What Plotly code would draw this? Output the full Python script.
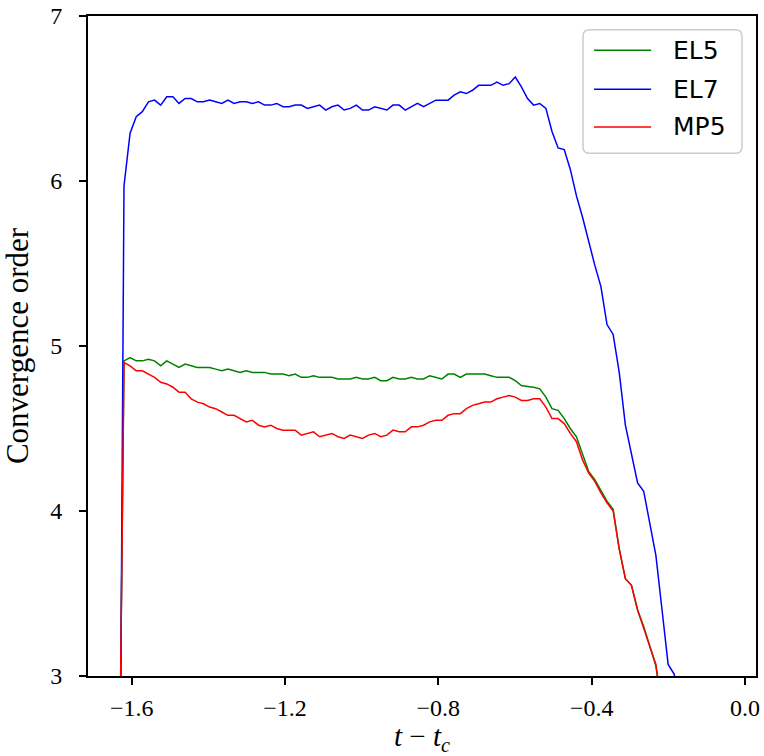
import plotly.graph_objects as go

# time relative to collapse, t - t_c
t_rel = [-1.6361, -1.6201, -1.6042, -1.5882, -1.5723, -1.5563, -1.5404, -1.5244, -1.5085, -1.4925,
         -1.4766, -1.4606, -1.4447, -1.4287, -1.4128, -1.3968, -1.3809, -1.3649, -1.3490, -1.3330,
         -1.3171, -1.3011, -1.2852, -1.2692, -1.2533, -1.2373, -1.2214, -1.2054, -1.1895, -1.1735,
         -1.1576, -1.1416, -1.1257, -1.1097, -1.0938, -1.0778, -1.0618, -1.0459, -1.0299, -1.0140,
         -0.9980, -0.9821, -0.9661, -0.9502, -0.9342, -0.9183, -0.9023, -0.8864, -0.8704, -0.8545,
         -0.8385, -0.8226, -0.8066, -0.7907, -0.7747, -0.7588, -0.7428, -0.7269, -0.7109, -0.6950,
         -0.6790, -0.6631, -0.6471, -0.6312, -0.6152, -0.5993, -0.5833, -0.5673, -0.5514, -0.5354,
         -0.5195, -0.5035, -0.4876, -0.4716, -0.4557, -0.4397, -0.4238, -0.4078, -0.3919, -0.3759,
         -0.3600, -0.3440, -0.3281, -0.3121, -0.2962, -0.2802, -0.2643, -0.2483, -0.2324, -0.2164,
         -0.2005, -0.1845, -0.1686]

el5 = [1.40, 4.91, 4.93, 4.91, 4.91, 4.92, 4.91, 4.88, 4.91, 4.89,
       4.87, 4.89, 4.88, 4.87, 4.87, 4.87, 4.86, 4.85, 4.86, 4.85,
       4.84, 4.85, 4.84, 4.84, 4.84, 4.83, 4.83, 4.83, 4.82, 4.83,
       4.81, 4.81, 4.82, 4.81, 4.81, 4.81, 4.80, 4.80, 4.80, 4.81,
       4.80, 4.80, 4.81, 4.79, 4.79, 4.81, 4.80, 4.80, 4.81, 4.80,
       4.80, 4.82, 4.81, 4.80, 4.83, 4.83, 4.81, 4.83, 4.83, 4.83,
       4.83, 4.82, 4.81, 4.81, 4.81, 4.79, 4.76, 4.755, 4.75, 4.74,
       4.69, 4.62, 4.61, 4.56, 4.50, 4.45, 4.34, 4.24, 4.19, 4.12,
       4.06, 4.01, 3.77, 3.59, 3.55, 3.40, 3.30, 3.18, 3.06, 2.80]

el7 = [0.20, 5.97, 6.29, 6.39, 6.42, 6.48, 6.49, 6.46, 6.51, 6.51,
       6.47, 6.50, 6.50, 6.48, 6.48, 6.49, 6.48, 6.47, 6.49, 6.47,
       6.48, 6.48, 6.47, 6.48, 6.46, 6.46, 6.47, 6.45, 6.45, 6.46,
       6.46, 6.44, 6.45, 6.46, 6.43, 6.45, 6.46, 6.43, 6.44, 6.46,
       6.43, 6.43, 6.45, 6.44, 6.43, 6.46, 6.46, 6.43, 6.45, 6.47,
       6.45, 6.47, 6.49, 6.49, 6.49, 6.52, 6.54, 6.53, 6.55, 6.58,
       6.58, 6.58, 6.60, 6.58, 6.59, 6.63, 6.57, 6.50, 6.46, 6.47,
       6.44, 6.30, 6.20, 6.19, 6.07, 5.91, 5.78, 5.63, 5.49, 5.36,
       5.13, 5.07, 4.84, 4.52, 4.34, 4.17, 4.12, 3.93, 3.73, 3.40,
       3.07, 3.01, 2.60]

mp5 = [1.40, 4.90, 4.88, 4.85, 4.85, 4.83, 4.81, 4.78, 4.77, 4.75,
       4.72, 4.72, 4.68, 4.66, 4.65, 4.63, 4.62, 4.60, 4.58, 4.58,
       4.56, 4.54, 4.55, 4.52, 4.51, 4.52, 4.50, 4.49, 4.49, 4.49,
       4.46, 4.47, 4.48, 4.45, 4.46, 4.47, 4.45, 4.44, 4.46, 4.45,
       4.44, 4.46, 4.47, 4.45, 4.46, 4.49, 4.48, 4.48, 4.51, 4.51,
       4.52, 4.54, 4.55, 4.55, 4.58, 4.59, 4.59, 4.62, 4.64, 4.65,
       4.66, 4.66, 4.68, 4.69, 4.70, 4.69, 4.67, 4.67, 4.68, 4.68,
       4.63, 4.56, 4.56, 4.53, 4.47, 4.42, 4.31, 4.23, 4.18, 4.11,
       4.05, 4.00, 3.77, 3.59, 3.55, 3.40, 3.29, 3.18, 3.07, 2.80]

series_names = ["EL5", "EL7", "MP5"]
series_values = [el5, el7, mp5]
series_colors = ["green", "blue", "red"]

x_ticks = [-1.6, -1.2, -0.8, -0.4, 0.0]
x_tick_text = ["\u22121.6", "\u22121.2", "\u22120.8", "\u22120.4", "0.0"]
y_ticks = [3, 4, 5, 6, 7]

fig = go.Figure()
for name, vals, color in zip(series_names, series_values, series_colors):
    fig.add_trace(go.Scatter(x=t_rel[:len(vals)], y=vals, mode="lines", name=name,
                             line=dict(color=color, width=1.5), showlegend=False))

# legend drawn as a framed box with line handles (matplotlib-style)
bx0, bx1, by0, by1 = 0.741, 0.979, 0.792, 0.979
rx, ry = 0.010, 0.010
box_path = (f"M{bx0+rx},{by0} L{bx1-rx},{by0} Q{bx1},{by0} {bx1},{by0+ry} "
            f"L{bx1},{by1-ry} Q{bx1},{by1} {bx1-rx},{by1} L{bx0+rx},{by1} "
            f"Q{bx0},{by1} {bx0},{by1-ry} L{bx0},{by0+ry} Q{bx0},{by0} {bx0+rx},{by0} Z")
fig.add_shape(type="path", path=box_path, xref="paper", yref="paper",
              line=dict(color="#cccccc", width=1.5), fillcolor="rgba(255,255,255,0.8)")
row_y = [0.948, 0.889, 0.832]
for name, color, yy in zip(series_names, series_colors, row_y):
    fig.add_shape(type="line", xref="paper", yref="paper", x0=0.7575, x1=0.843, y0=yy, y1=yy,
                  line=dict(color=color, width=1.5))
    fig.add_annotation(x=0.873, y=yy, xref="paper", yref="paper", text=name, showarrow=False,
                       xanchor="left", yanchor="middle",
                       font=dict(family="DejaVu Sans, sans-serif", size=25, color="black"))

serif = "Liberation Serif, DejaVu Serif, serif"
axis_common = dict(showgrid=False, zeroline=False, showline=True, linecolor="black",
                   linewidth=2, mirror=True, ticks="outside", ticklen=7, tickwidth=1.5,
                   tickcolor="black", automargin=False, ticklabeloverflow="allow",
                   tickfont=dict(family=serif, size=24, color="black"))

fig.update_layout(
    width=764, height=756,
    margin=dict(l=88, r=8, t=16, b=80),
    plot_bgcolor="white", paper_bgcolor="white",
    showlegend=False,
    xaxis=dict(range=[-1.714, 0.0287], tickvals=x_ticks, ticktext=x_tick_text,
               ticklabelstandoff=2,
               title=dict(text="<i>t</i> \u2212 <i>t</i><sub><i>c</i></sub>",
                          font=dict(family=serif, size=29, color="black"), standoff=11),
               **axis_common),
    yaxis=dict(range=[3, 7], tickvals=y_ticks, ticklabelstandoff=12,
               title=dict(text="Convergence order",
                          font=dict(family=serif, size=31, color="black"), standoff=14),
               **axis_common),
)

# the page body's default 8px margin is removed so the figure fills the window exactly
fig.write_html("out.html", config={"displayModeBar": False},
               post_script="document.body.style.margin='0px';")
